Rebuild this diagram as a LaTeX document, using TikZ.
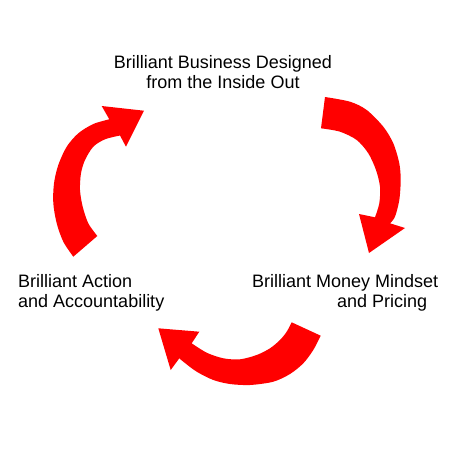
\documentclass[tikz,border=0pt]{standalone}
\usepackage{fontspec}
\setmainfont{Liberation Sans}
\usepackage{xcolor}
\usepackage{tikz}
\usetikzlibrary{positioning}
\definecolor{arrowred}{HTML}{FF0000}

\begin{document}
\begin{tikzpicture}[
    x=1pt, y=-1pt,
    stage/.style={inner sep=0pt, font=\fontsize{18}{20.3}\selectfont},
    cyclearrow/.style={fill=arrowred}
]
    \useasboundingbox (0,0) rectangle (450,450);

    \node[stage, align=center, anchor=north] (design) at (223,55) {Brilliant Business Designed\\from the Inside Out};
    \node[stage, align=left, anchor=north west] (money) at (252,274) {Brilliant Money Mindset\\\hspace*{85pt}and Pricing};
    \node[stage, align=left, anchor=north west] (action) at (18,274) {Brilliant Action\\and Accountability};

    % design -> money
    \fill[cyclearrow] plot[smooth] coordinates {(325,97) (350,101.7) (366.7,110) (383.3,126.7) (393.3,143.3) (399.3,163.3) (400.7,180) (399.3,200) (395,216.7) (390,223.3)}
        -- (405,228) -- (369,253) -- (359,214)
        -- plot[smooth] coordinates {(375,217.3) (379.3,203.3) (380,186.7) (376,170) (368.3,153.3) (356.7,140) (340,131.7) (321,128.3)} -- cycle;

    % money -> action
    \fill[cyclearrow] plot[smooth] coordinates {(320.7,335.7) (313.3,350) (303.3,363.3) (290,374) (273.3,381.7) (250,385) (230,384) (213.3,380) (196.7,371.7) (183.3,361.7) (179.3,358.3)}
        -- (170.7,370) -- (158.3,328.3) -- (199.3,331.7)
        -- plot[smooth] coordinates {(191.7,343.3) (206.7,352.7) (223.3,358.3) (240,359.3) (256.7,355) (270,348.3) (280,340) (286.7,331.7) (291.7,322.3)} -- cycle;

    % action -> design
    \fill[cyclearrow] plot[smooth] coordinates {(73.3,256.7) (63.3,241.7) (56.7,223.3) (53.3,203.3) (54,183.3) (58.3,165) (66.7,146.7) (78.3,133.3) (93.3,124) (109.3,119.3)}
        -- (101.7,106) -- (144,110.7) -- (126,146.7)
        -- plot[smooth] coordinates {(120,135.5) (105,139.3) (93.3,146.7) (85,160) (81,173.3) (80,190) (82.7,206.7) (88.3,223.3) (97.3,236)} -- cycle;
\end{tikzpicture}
\end{document}
